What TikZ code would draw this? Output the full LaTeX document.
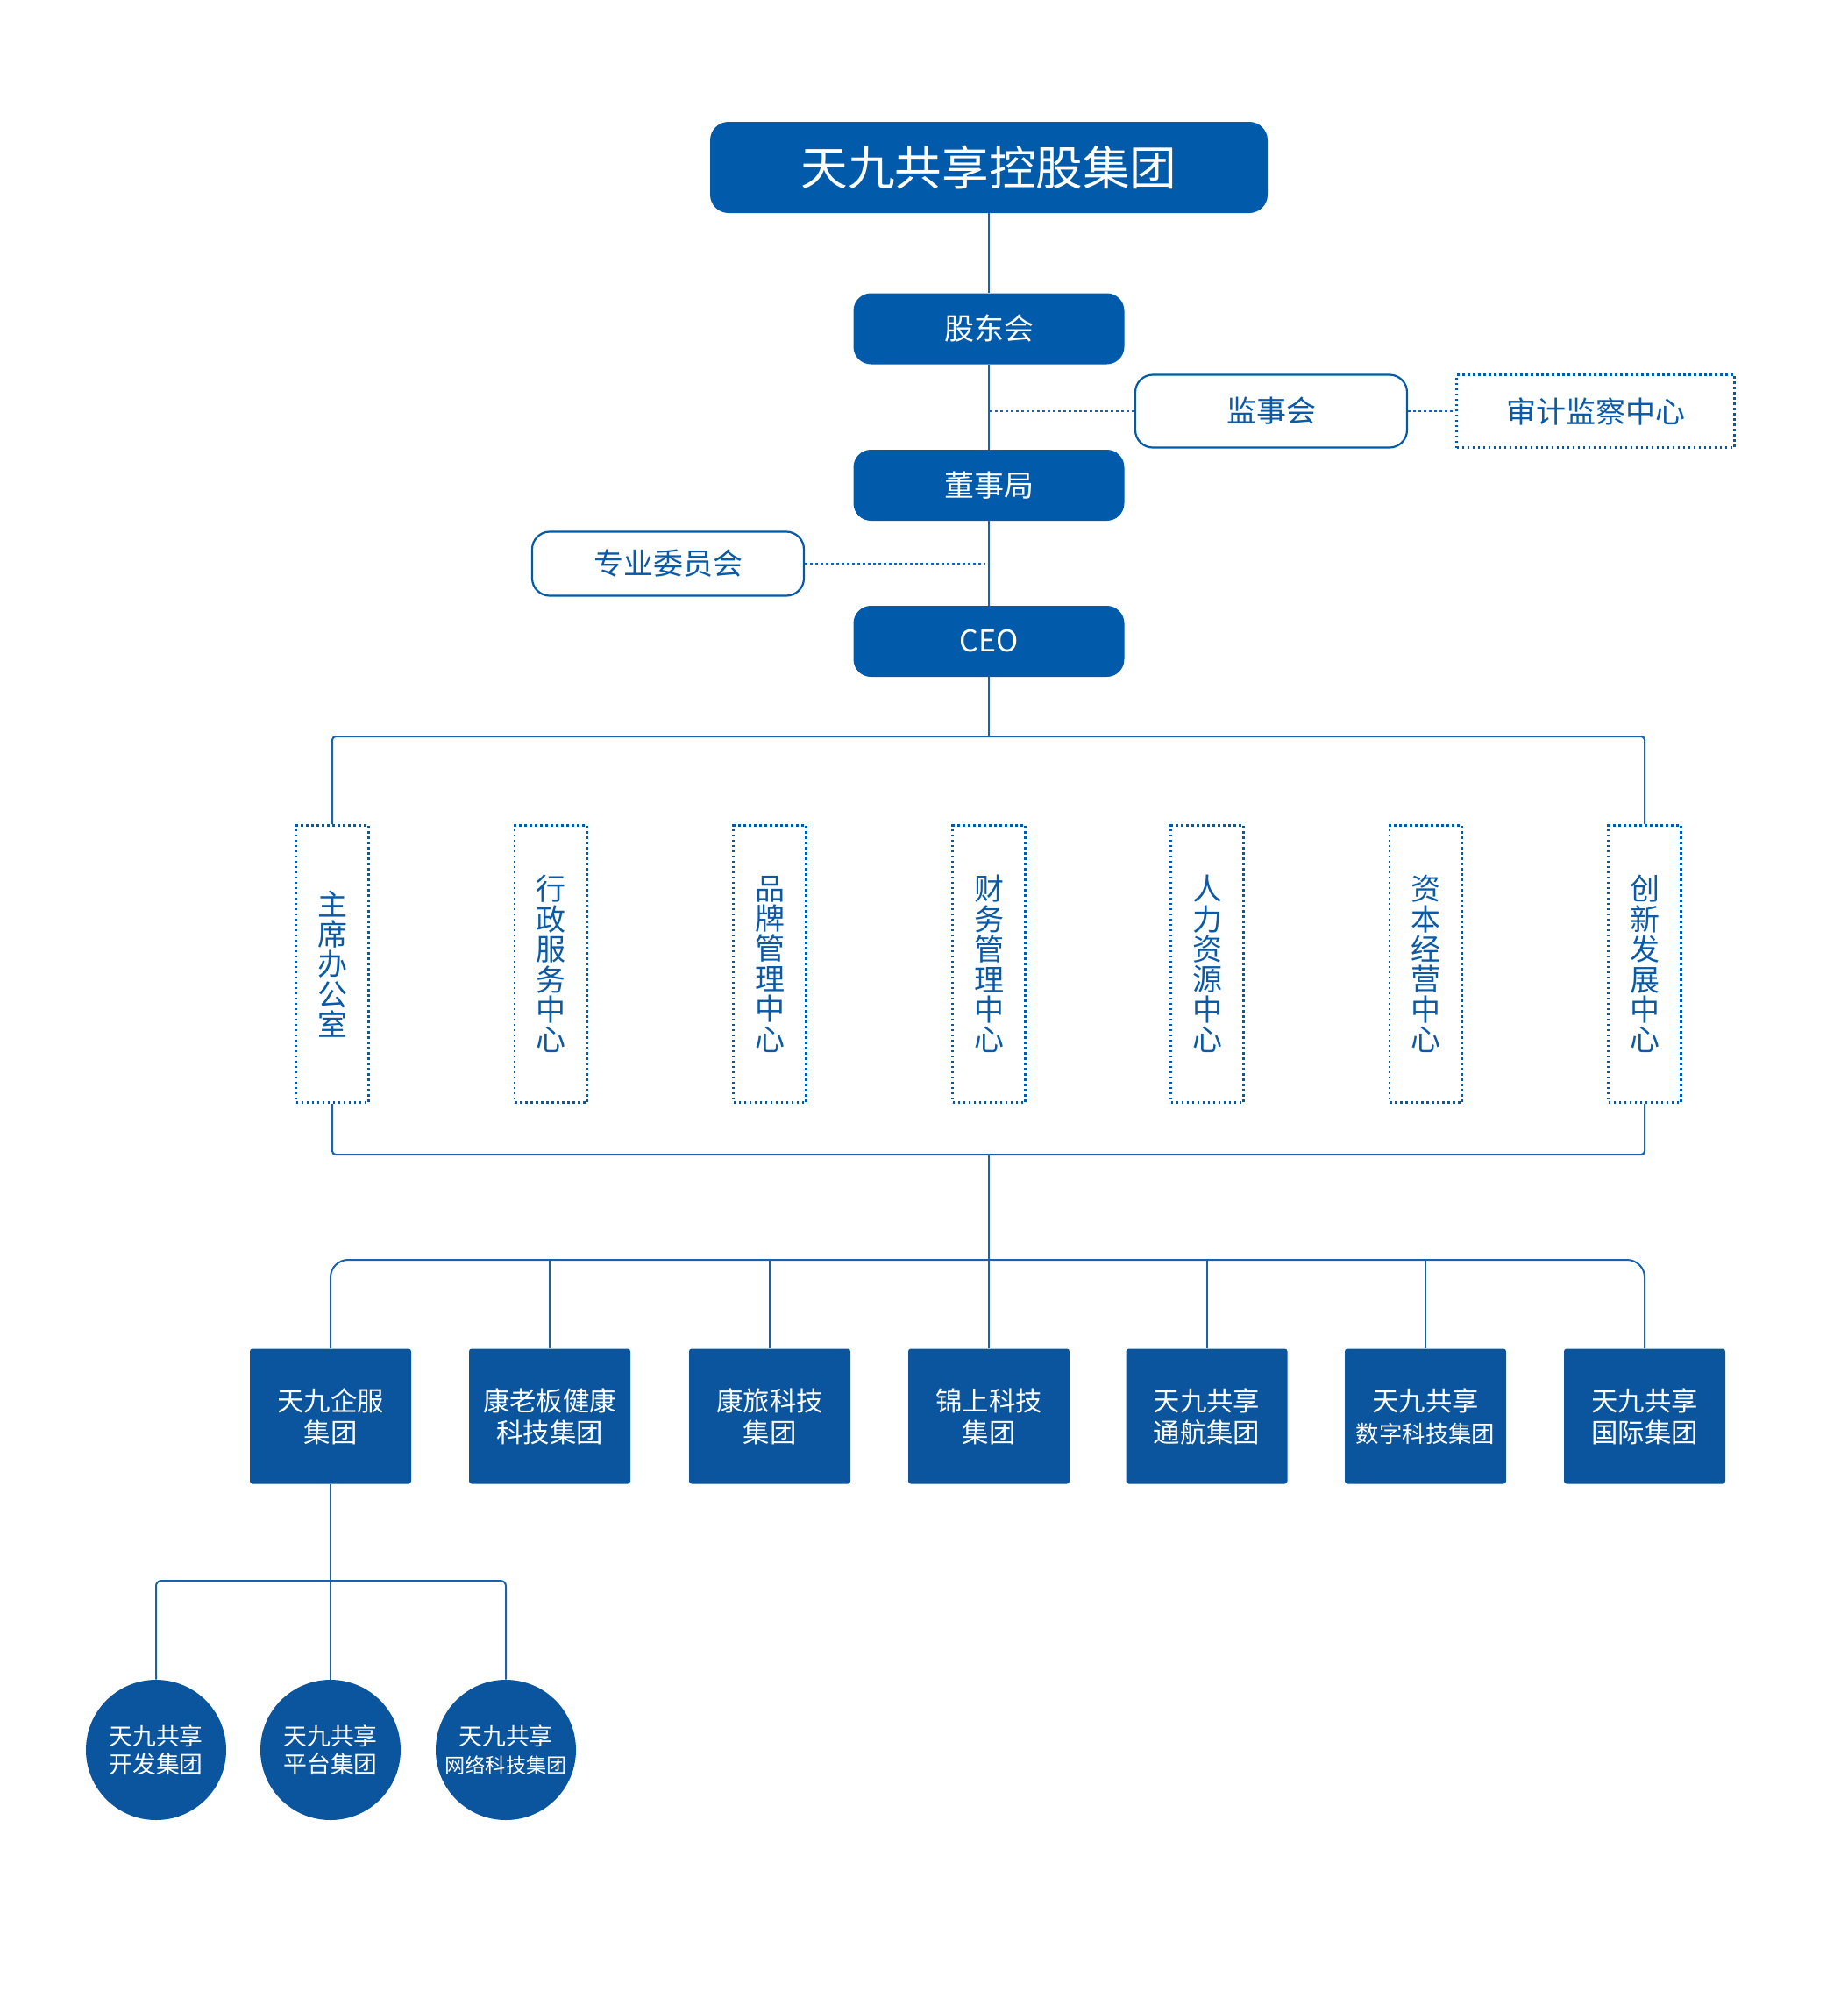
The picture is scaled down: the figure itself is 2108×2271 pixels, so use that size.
\documentclass[tikz,border=0pt]{standalone}
\usepackage{fontspec}
\setmainfont{Noto Sans CJK SC}
\definecolor{mainblue}{RGB}{1,91,170}
\definecolor{compblue}{RGB}{11,85,158}
\definecolor{lineblue}{RGB}{26,98,174}
\definecolor{textblue}{RGB}{10,90,168}
\begin{document}
\begin{tikzpicture}[x=0.5pt,y=-0.5pt,
  conn/.style={draw=lineblue,line width=1pt},
  dotconn/.style={draw=lineblue,line width=1.3pt,dash pattern=on 1.3pt off 1.7pt},
  topbox/.style={fill=mainblue,text=white,rounded corners=10.5pt,minimum width=318pt,minimum height=52pt,inner sep=0pt,font=\fontsize{26.8}{30}\selectfont},
  midbox/.style={fill=mainblue,text=white,rounded corners=10pt,minimum width=154.5pt,minimum height=40.5pt,inner sep=0pt,font=\fontsize{17}{20}\selectfont},
  wbox/.style={draw=mainblue,line width=1.1pt,fill=white,text=textblue,rounded corners=10pt,minimum width=155pt,minimum height=41.5pt,inner sep=0pt,font=\fontsize{17}{20}\selectfont},
  dbox/.style={draw=mainblue,line width=1.4pt,dash pattern=on 1.4pt off 1.6pt,fill=white,text=textblue,minimum width=158.5pt,minimum height=41.5pt,inner sep=0pt,font=\fontsize{17}{20}\selectfont},
  vbox/.style={draw=mainblue,line width=1.4pt,dash pattern=on 1.4pt off 1.6pt,text=textblue,minimum width=41.5pt,minimum height=158pt,inner sep=0pt,align=center,font=\fontsize{17}{17.2}\selectfont},
  cbox/.style={fill=compblue,text=white,rounded corners=1.5pt,minimum width=92pt,minimum height=77pt,inner sep=0pt,align=center,font=\fontsize{15.2}{18}\selectfont},
  circ/.style={circle,fill=compblue,text=white,minimum size=80pt,inner sep=0pt,align=center,font=\fontsize{13.4}{16}\selectfont}]
\fill[white] (0,0) rectangle (2108,2271);
\useasboundingbox (0,0) rectangle (2108,2271);

% top chain
\node[topbox] (top) at (1128,191) {天九共享控股集团};
\node[midbox] (gudong) at (1128,375) {股东会};
\node[wbox] (jianshi) at (1450,469) {监事会};
\node[dbox] (shenji) at (1820,469) {审计监察中心};
\node[midbox] (dongshi) at (1128,553.5) {董事局};
\node[wbox,minimum height=36.5pt] (zhuanye) at (762,643) {专业委员会};
\node[midbox] (ceo) at (1128,731.5) {CEO};

\draw[conn] (top.south) -- (gudong.north);
\draw[conn] (gudong.south) -- (dongshi.north);
\draw[conn] (dongshi.south) -- (ceo.north);
\draw[dotconn] (jianshi.west) -- (gudong.south |- jianshi.west);
\draw[dotconn] (jianshi.east) -- (shenji.west);
\draw[dotconn] (zhuanye.east) -- ([xshift=-2pt]dongshi.south |- zhuanye.east);

% departments
\node[vbox] (d1) at (379,1099.6) {主\\席\\办\\公\\室};
\node[vbox] (d2) at (628.5,1099.6) {行\\政\\服\\务\\中\\心};
\node[vbox] (d3) at (878,1099.6) {品\\牌\\管\\理\\中\\心};
\node[vbox] (d4) at (1128,1099.6) {财\\务\\管\\理\\中\\心};
\node[vbox] (d5) at (1377,1099.6) {人\\力\\资\\源\\中\\心};
\node[vbox] (d6) at (1626.5,1099.6) {资\\本\\经\\营\\中\\心};
\node[vbox] (d7) at (1876,1099.6) {创\\新\\发\\展\\中\\心};

\coordinate (bus1) at (1128,840);
\coordinate (bus2) at (1128,1317);
\coordinate (bus3) at (1128,1437);
\draw[conn] (ceo.south) -- (bus1);
\draw[conn,rounded corners=2pt] (d1.north) |- (bus1) -| (d7.north);
\draw[conn,rounded corners=2pt] (d1.south) |- (bus2) -| (d7.south);
\draw[conn] (bus2) -- (bus3);

% companies
\node[cbox] (c1) at (377,1615.5) {天九企服\\集团};
\node[cbox] (c2) at (627,1615.5) {康老板健康\\科技集团};
\node[cbox] (c3) at (878,1615.5) {康旅科技\\集团};
\node[cbox] (c4) at (1128,1615.5) {锦上科技\\集团};
\node[cbox] (c5) at (1376.5,1615.5) {天九共享\\通航集团};
\node[cbox] (c6) at (1626,1615.5) {天九共享\\{\fontsize{13.2}{18}\selectfont 数字科技集团}};
\node[cbox] (c7) at (1876,1615.5) {天九共享\\国际集团};

\draw[conn,rounded corners=10pt] (c1.north) |- (bus3) -| (c7.north);
\draw[conn] (bus3) -- (c4.north);
\draw[conn] (c2.north) -- (c2.north |- bus3);
\draw[conn] (c3.north) -- (c3.north |- bus3);
\draw[conn] (c5.north) -- (c5.north |- bus3);
\draw[conn] (c6.north) -- (c6.north |- bus3);

% sub companies
\node[circ] (e1) at (178,1996) {天九共享\\开发集团};
\node[circ] (e2) at (377,1996) {天九共享\\平台集团};
\node[circ] (e3) at (577,1996) {天九共享\\{\fontsize{11.6}{16}\selectfont 网络科技集团}};

\coordinate (bus4) at (377,1803);
\draw[conn] (c1.south) -- (e2.north);
\draw[conn,rounded corners=3pt] (e1.north) |- (bus4) -| (e3.north);
\end{tikzpicture}
\end{document}
